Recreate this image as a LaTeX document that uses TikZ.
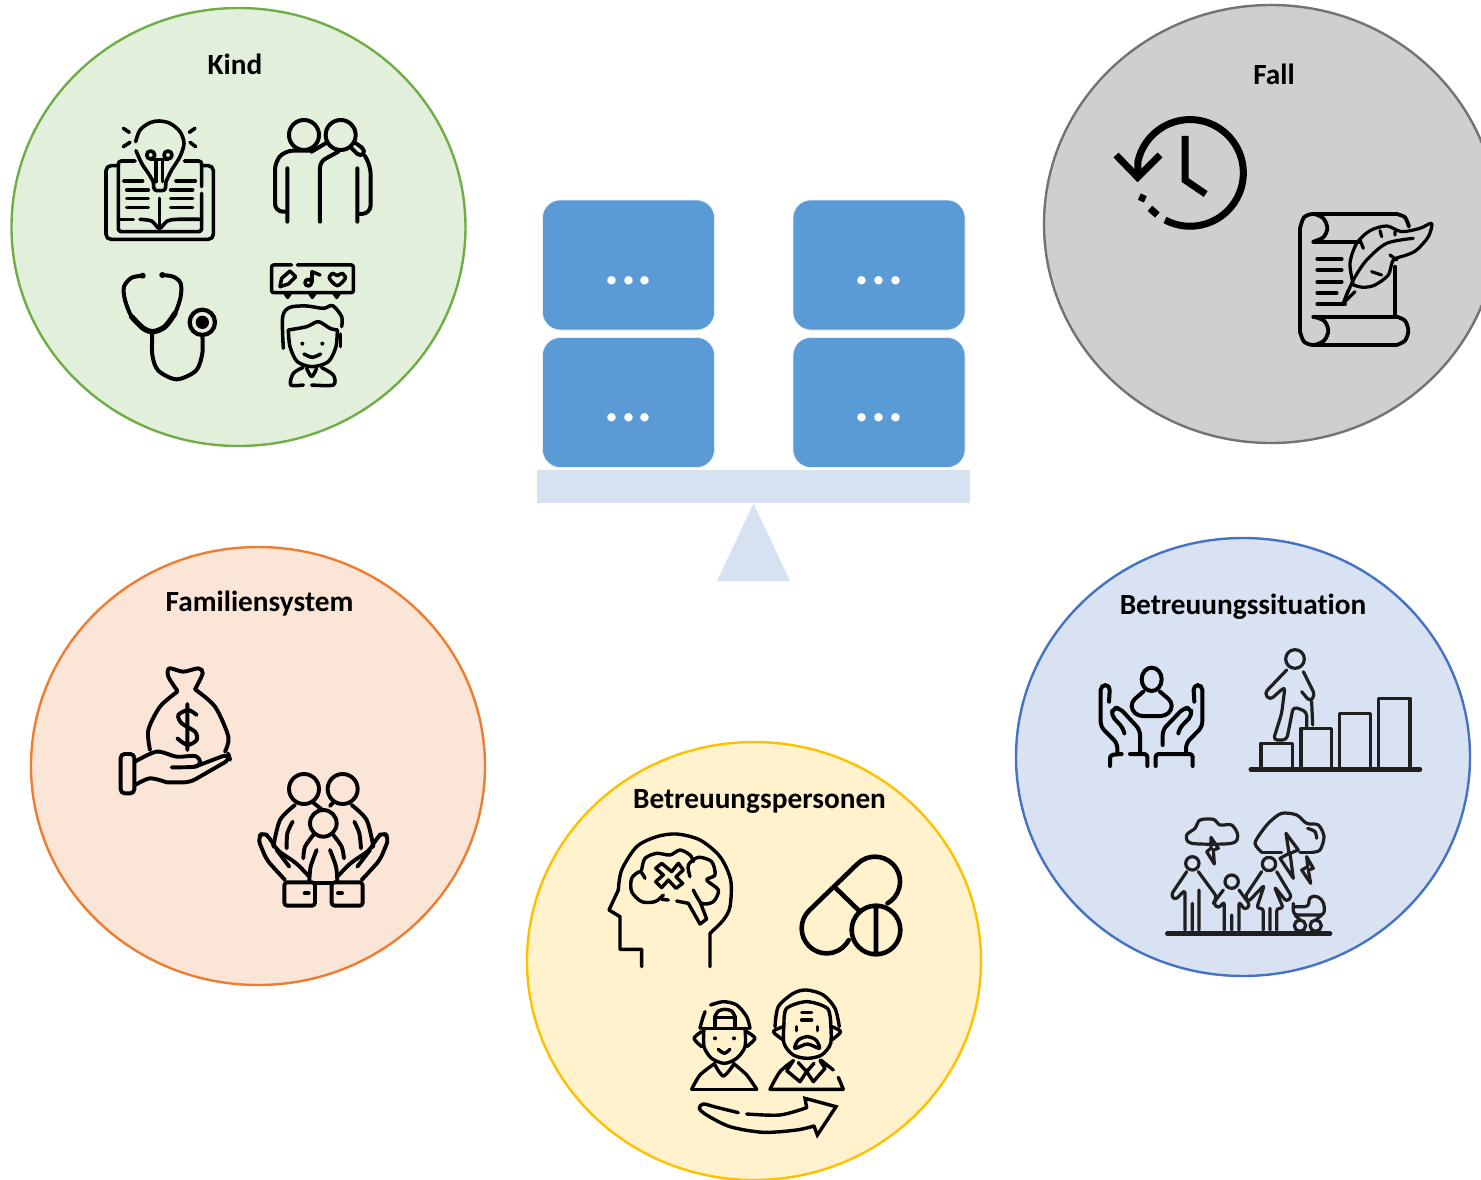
\documentclass[tikz,border=0pt]{standalone}
\usepackage{xcolor}
\usepackage{fontspec}
\setmainfont{Carlito}[Ligatures=NoCommon]
\usepackage{tikz}
\usetikzlibrary{shapes.geometric, positioning}

\definecolor{boxblue}{HTML}{5B9BD5}
\definecolor{beam}{HTML}{D6E1F2}

\tikzset{
    topic/.style={draw, ellipse, line width=2.4pt, minimum width=454pt, minimum height=438pt, inner sep=0pt},
    topictitle/.style={font=\fontsize{29.3}{32}\selectfont\bfseries, inner sep=0pt},
    box/.style={fill=boxblue, draw=white!85!boxblue, line width=0.6pt, rounded corners=18pt, minimum width=172pt, minimum height=130pt, inner sep=0pt, outer sep=0pt,
        text=white, text height=38.5pt, text depth=0pt, font=\fontsize{56}{56}\selectfont\bfseries},
    icon/.style={line width=4pt, line cap=round, line join=round, black},
    thin icon/.style={line width=3.2pt, line cap=round, line join=round, black!88},
    crop/.style 2 args={shift={(#1,#2)}, x=0.33333pt, y=-0.33333pt}
}
\newcommand{\dotsrow}{.\hspace{1.7pt}.\hspace{1.7pt}.}

\begin{document}
\begin{tikzpicture}[x=1pt, y=-1pt]
    \useasboundingbox (0,0) rectangle (1481,1180);

    % circles
    \node[topic, draw={rgb,255:red,112;green,173;blue,71}, fill={rgb,255:red,226;green,239;blue,218}] (kind) at (238.5,227) {};
    \node[topic, draw=black!55, fill={rgb,255:red,208;green,206;blue,206}] (fall) at (1271,224) {};
    \node[topic, draw={rgb,255:red,237;green,125;blue,49}, fill={rgb,255:red,251;green,229;blue,214}] (familie) at (258,766) {};
    \node[topic, draw={rgb,255:red,68;green,114;blue,196}, fill={rgb,255:red,217;green,226;blue,243}] (situation) at (1243,757) {};
    \node[topic, draw={rgb,255:red,255;green,192;blue,0}, fill={rgb,255:red,255;green,242;blue,204}] (personen) at (754,961) {};

    \node[topictitle] (kindtitle) at (235,64) {Kind};
    \node[topictitle] (falltitle) at (1274,74.5) {Fall};
    \node[topictitle] (familietitle) at (259.5,604) {Familiensystem};
    \node[topictitle] (situationtitle) at (1243,606.5) {Betreuungssituation};
    \node[topictitle] (personentitle) at (759.5,801) {Betreuungspersonen};

    % scale
    \node[box] (boxa) at (628.5,265) {\dotsrow};
    \node[box, below=7.5pt of boxa] (boxb) {\dotsrow};
    \node[box, right=78.5pt of boxa] (boxc) {\dotsrow};
    \node[box, below=7.5pt of boxc] (boxd) {\dotsrow};
    \node[fill=beam, minimum width=433pt, minimum height=33.5pt, inner sep=0pt] (bar) at (753.5,486.7) {};
    \fill[beam] (753.5,503.5) -- (790,581) -- (717,581) -- cycle;

    % Kind: book and bulb
    \begin{scope}[crop={90}{100}, icon, line width=3.6pt]
        \draw plot[smooth] coordinates {(137,125) (150,90) (180,68) (208,63) (240,70) (270,95) (282,130) (270,170) (245,210) (228,245)}
            plot[smooth] coordinates {(138,152) (155,190) (175,220) (190,245)};
        \draw[rounded corners=3pt] (190,245) -- (192,272) -- (226,272) -- (228,245);
        \draw (182,165) circle[radius=12] (234,165) circle[radius=12];
        \draw (182,178) -- (234,178) (198,178) -- (198,245) (218,178) -- (218,245);
        \draw (100,85) -- (118,97) (100,140) -- (120,127) (315,85) -- (298,97) (300,127) -- (317,140);
        \draw[rounded corners=5pt] (80,197) -- (48,197) -- (48,418) -- (370,418) -- (370,197) -- (338,197);
        \draw[rounded corners=3pt] (135,183) -- (85,183) -- (85,395) -- (335,395) -- (335,280);
        \draw[rounded corners=3pt] (283,183) -- (335,183) -- (335,260);
        \draw (85,358) -- (130,358) (208,295) -- (208,390);
        \draw plot[smooth] coordinates {(150,358) (185,363) (208,385) (232,363) (262,358) (335,358)};
        \draw (102,243) -- (158,243) (110,270) -- (175,270) (110,296) -- (175,296) (110,322) -- (175,322);
        \draw (258,243) -- (316,243) (242,270) -- (308,270) (242,296) -- (308,296) (242,322) -- (308,322);
    \end{scope}
    % Kind: couple
    \begin{scope}[crop={90}{100}, icon]
        \draw (642,105) circle[radius=45] (752,105) circle[radius=45];
        \draw[rounded corners=8pt] (668,152) -- (585,152) -- (555,185) -- (555,335) -- (585,335);
        \draw (592,205) -- (592,365) (665,155) -- (710,128) (802,205) -- (802,365);
        \draw[rounded corners=6pt] (745,155) -- (690,185) -- (690,365);
        \draw[rounded corners=5pt] (798,130) -- (828,152) -- (812,172) -- (785,145);
        \draw[rounded corners=8pt] (825,168) -- (842,200) -- (842,340) -- (810,342);
    \end{scope}
    % Kind: stethoscope
    \begin{scope}[crop={90}{100}, icon]
        \draw plot[smooth] coordinates {(160,527) (125,533) (102,560) (105,600) (125,650) (160,685) (190,695) (225,680) (255,640) (272,590) (272,550) (250,530) (215,525)};
        \draw[line width=5.4pt] plot[smooth] coordinates {(125,650) (160,685) (190,695) (225,680) (255,640)};
        \fill (158,527) circle[radius=9] (217,525) circle[radius=9];
        \draw plot[smooth] coordinates {(187,695) (187,765) (205,812) (260,838) (318,812) (337,760) (337,705)};
        \draw[line width=4.2pt] (337,667) circle[radius=38];
        \fill (337,667) circle[radius=20];
    \end{scope}
    % Kind: child with speech bubble
    \begin{scope}[crop={90}{100}, icon, line width=3.5pt]
        \draw[rounded corners=2pt] (605,495) -- (545,495) -- (545,578) -- (790,578) -- (790,495) -- (622,495);
        \draw (585,580) -- (593,592) -- (601,580) (659,580) -- (667,592) -- (675,580) (732,580) -- (740,592) -- (748,580);
        \draw (570,560) -- (575,535) -- (600,513) -- (617,530) -- (595,552) -- cycle;
        \draw (655,548) circle[radius=10] (666,548) -- (666,515) -- (690,525);
        \draw plot[smooth cycle] coordinates {(742,557) (718,535) (728,520) (742,527) (756,520) (766,535)};
        \draw plot[smooth] coordinates {(580,745) (578,650) (600,622) (650,618) (700,625) (728,617) (755,650) (755,680)};
        \draw plot[smooth] coordinates {(595,690) (650,680) (685,665) (720,685) (742,690)};
        \draw plot[smooth] coordinates {(595,690) (600,740) (622,785) (667,800) (715,785) (738,740) (742,690)};
        \draw (752,702) -- (752,740);
        \fill (637,731) circle[radius=6] (697,731) circle[radius=6];
        \draw plot[smooth] coordinates {(642,762) (667,772) (692,762)};
        \draw plot[smooth] coordinates {(640,802) (610,820) (602,855) (640,855)};
        \draw plot[smooth] coordinates {(665,855) (730,855) (730,825) (695,803)};
        \draw plot[smooth] coordinates {(650,805) (665,830) (680,805)};
    \end{scope}

    % Fall: clock
    \begin{scope}[crop={1100}{100}, icon, line cap=butt, line join=miter, line width=7pt]
        \draw (195,360) arc[start angle=118, end angle=-168, radius=160] -- (113,232);
        \draw (255,108) -- (255,240) -- (317,282);
        \draw (48,165) -- (113,232) -- (180,165);
        \draw (118,290) -- (136,298) (150,325) -- (172,345);
    \end{scope}
    % Fall: scroll and feather
    \begin{scope}[crop={1100}{100}, icon, line width=3.8pt]
        \draw plot[smooth] coordinates {(640,425) (670,412) (682,385) (670,355) (640,342) (612,352) (600,385)};
        \draw (600,385) -- (600,695) (640,342) -- (890,342) (640,425) -- (780,425) (640,650) -- (890,650) (640,735) -- (890,735) (885,500) -- (885,650);
        \draw plot[smooth] coordinates {(600,695) (612,725) (640,735) (672,722) (685,692) (672,662) (640,650)};
        \draw plot[smooth] coordinates {(890,650) (915,662) (925,692) (915,722) (890,735)};
        \draw plot[smooth] coordinates {(890,342) (915,352) (927,380)};
        \draw (652,477) -- (725,477) (652,510) -- (725,510) (652,545) -- (725,545) (652,578) -- (710,578) (652,612) -- (735,612);
        \draw[line width=3.2pt] plot[smooth] coordinates {(760,555) (750,490) (770,430) (810,392) (860,378) (905,395) (960,385) (995,370) (985,410) (950,450) (920,465) (880,480) (865,525) (825,555) (790,562) (760,555)};
        \draw[line width=3.2pt] plot[smooth] coordinates {(730,610) (760,540) (800,480) (860,430) (940,415)};
        \draw[line width=3.2pt] (730,610) -- (745,570) (730,610) -- (765,575) (780,420) -- (790,445) (840,392) -- (845,410) (885,395) -- (885,405) (870,465) -- (890,480) (815,515) -- (845,525);
    \end{scope}

    % Familiensystem: money
    \begin{scope}[crop={100}{650}, icon, line width=3.9pt]
        \draw plot[smooth] coordinates {(232,122) (205,80) (208,55) (250,65) (295,55) (308,70) (285,118)};
        \draw plot[smooth] coordinates {(232,125) (180,170) (145,240) (150,300)};
        \draw plot[smooth] coordinates {(285,118) (345,170) (385,260) (375,305)};
        \draw plot[smooth] coordinates {(290,195) (265,180) (235,195) (245,220) (285,245) (290,270) (262,285) (232,265)} (262,162) -- (262,300);
        \draw[rounded corners=4pt] (62,312) rectangle (103,430);
        \draw plot[smooth] coordinates {(105,335) (170,305) (230,320) (285,318) (300,335) (285,350) (215,352)};
        \draw[rounded corners=6pt] (285,350) -- (385,312) -- (390,328) -- (270,397) -- (200,397);
        \draw plot[smooth] coordinates {(200,397) (150,385) (105,405)};
    \end{scope}
    % Familiensystem: family in hands
    \begin{scope}[crop={100}{650}, icon, line width=3.9pt]
        \draw (612,417) circle[radius=45] (728,417) circle[radius=45] (670,520) circle[radius=40];
        \draw plot[smooth] coordinates {(585,465) (540,510) (520,590)} plot[smooth] coordinates {(755,465) (800,510) (820,590)};
        \draw (640,458) -- (665,478) (690,468) -- (702,455);
        \draw plot[smooth] coordinates {(578,515) (562,550) (560,595)} plot[smooth] coordinates {(763,515) (778,550) (783,595)};
        \draw plot[smooth] coordinates {(640,555) (615,590) (610,625)} plot[smooth] coordinates {(700,555) (725,590) (732,625)};
        \draw plot[smooth] coordinates {(650,600) (632,650) (628,695)} plot[smooth] coordinates {(690,600) (708,650) (712,695)};
        \draw[rounded corners=6pt] (555,690) -- (500,630) -- (473,565) -- (490,545) -- (510,565) -- (530,600) -- (590,640) -- (628,680);
        \draw[rounded corners=6pt] (785,690) -- (840,630) -- (867,565) -- (850,545) -- (830,565) -- (810,600) -- (750,640) -- (712,680);
        \draw (530,600) -- (568,650) (810,600) -- (772,650);
        \draw[rounded corners=3pt] (553,697) rectangle (645,767) (695,697) rectangle (788,767);
        \draw (645,700) -- (695,700) (614,730) -- (626,730) (714,730) -- (726,730);
    \end{scope}

    % Betreuungspersonen: head
    \begin{scope}[crop={590}{820}, icon, line width=3.4pt]
        \draw plot[smooth] coordinates {(85,210) (95,150) (140,80) (200,50) (260,42) (330,60) (390,110) (422,180) (420,260) (400,300) (360,340)};
        \draw (155,440) -- (155,388) -- (90,388) -- (90,290) -- (57,270) -- (85,210) (360,340) -- (360,440);
        \draw plot[smooth] coordinates {(165,175) (150,155) (125,175) (125,215) (155,245) (195,245) (220,225)};
        \draw plot[smooth] coordinates {(155,150) (165,115) (200,100) (240,105) (270,90) (300,105) (310,125)};
        \draw plot[smooth] coordinates {(300,170) (295,135) (325,112) (365,125) (375,165) (350,180) (385,210) (370,245) (335,250) (310,210)};
        \draw (235,240) -- (215,238) (260,243) -- (295,250) -- (330,312) -- (350,297) -- (330,245);
        \draw (215,130) -- (245,155) -- (265,130) -- (280,150) -- (258,170) -- (278,190) -- (258,205) -- (235,180) -- (215,203) -- (197,185) -- (220,165) -- (197,145) -- cycle;
    \end{scope}
    % Betreuungspersonen: pills
    \begin{scope}[crop={590}{820}, icon, line width=4.6pt]
        \draw (858,330) circle[radius=73] (858,262) -- (858,395) (738,205) -- (805,270);
        \draw (657,272) -- (802,132) arc[start angle=-135, end angle=60, radius=75];
        \draw (657,272) arc[start angle=-135, end angle=-332, radius=75];
    \end{scope}
    % Betreuungspersonen: young and old person, arrow
    \begin{scope}[crop={590}{820}, icon, line width=3.4pt]
        \draw plot[smooth] coordinates {(345,575) (335,605) (330,625)};
        \draw plot[smooth] coordinates {(362,555) (400,545) (440,555) (470,590) (480,625)};
        \draw (335,625) -- (475,625) (378,592) -- (432,592) (375,625) -- (375,590) (435,625) -- (435,590);
        \draw plot[smooth] coordinates {(375,590) (385,573) (405,568) (425,573) (435,590)};
        \draw plot[smooth] coordinates {(342,625) (342,680) (365,715) (403,730) (440,715) (465,680) (465,625)};
        \draw plot[smooth] coordinates {(335,635) (312,655) (335,680)} plot[smooth] coordinates {(470,635) (495,655) (470,680)};
        \fill (375,655) circle[radius=6] (432,655) circle[radius=6];
        \draw plot[smooth] coordinates {(385,688) (403,700) (420,688)};
        \draw (305,808) -- (500,808);
        \draw plot[smooth] coordinates {(305,808) (330,765) (375,730)} plot[smooth] coordinates {(500,808) (470,765) (430,730)};
        \draw plot[smooth] coordinates {(375,735) (400,768) (430,735)};
        \draw plot[smooth] coordinates {(555,620) (565,560) (610,520) (650,510) (700,525) (735,565) (748,620)};
        \draw plot[smooth] coordinates {(582,610) (590,565) (650,545) (712,565) (722,610)};
        \draw plot[smooth] coordinates {(582,610) (582,670) (610,705) (652,715) (695,705) (722,670) (722,610)};
        \draw plot[smooth] coordinates {(580,620) (550,635) (580,660)} plot[smooth] coordinates {(725,620) (752,635) (725,660)};
        \draw (635,578) -- (665,578) (635,600) -- (665,600) (620,620) -- (620,632) (682,620) -- (682,632);
        \draw plot[smooth cycle] coordinates {(652,650) (625,660) (615,685) (652,672) (688,685) (678,660)};
        \draw (540,808) -- (760,808) (760,808) -- (745,772) (730,750) -- (692,720);
        \draw plot[smooth] coordinates {(540,808) (570,755) (610,722)};
        \draw (610,722) -- (590,752) -- (630,785) -- (650,755) -- (670,785) -- (705,745) -- (690,722) (625,728) -- (650,755) -- (672,730);
        \draw plot[smooth] coordinates {(445,878) (380,862) (340,852) (328,865) (350,885) (420,920) (520,937) (620,930) (672,918)};
        \draw plot[smooth] coordinates {(470,882) (570,885) (650,863)};
        \draw[line join=miter] (650,863) -- (645,835) -- (738,860) -- (682,945) -- (672,918);
    \end{scope}

    % Betreuungssituation: hands
    \begin{scope}[crop={1085}{640}, icon]
        \draw (200,118) ellipse[x radius=30, y radius=35];
        \draw[rounded corners=4pt] (175,155) -- (140,185) -- (140,210) -- (160,228) -- (240,228) -- (260,210) -- (260,185) -- (225,155);
        \draw[rounded corners=5pt] (72,185) -- (75,135) -- (47,135) -- (47,260) -- (97,310) -- (97,340);
        \draw[rounded corners=5pt] (118,280) -- (115,265) -- (78,225) -- (85,203) -- (105,205) -- (165,270) -- (165,340);
        \draw[rounded corners=3pt] (75,378) -- (75,345) -- (110,342) (135,342) -- (187,342) -- (187,378);
        \draw[rounded corners=5pt] (328,185) -- (325,135) -- (352,135) -- (352,260) -- (303,310) -- (303,340);
        \draw[rounded corners=5pt] (280,280) -- (283,265) -- (322,225) -- (315,203) -- (295,205) -- (233,270) -- (233,315);
        \draw[rounded corners=3pt] (212,378) -- (212,342) -- (323,342) -- (323,378);
    \end{scope}
    % Betreuungssituation: stairs
    \begin{scope}[crop={1085}{640}, thin icon]
        \draw[line width=4.4pt] (497,388) -- (1005,388);
        \draw (528,385) -- (528,310) -- (622,310) -- (622,385) (648,385) -- (648,265) -- (740,265) -- (740,385);
        \draw (763,385) -- (763,220) -- (857,220) -- (857,385) (880,385) -- (880,175) -- (975,175) -- (975,385);
        \draw (630,57) circle[radius=28];
        \draw[rounded corners=4pt] (605,90) -- (538,160) -- (555,180) -- (600,140) -- (590,220) -- (565,300) -- (605,300) -- (625,200) -- (665,215) -- (665,260);
        \draw[rounded corners=4pt] (655,95) -- (690,165) -- (675,185) -- (650,155) (680,185) -- (683,255);
    \end{scope}
    % Betreuungssituation: family under clouds
    \begin{scope}[crop={1085}{640}, thin icon]
        \draw[line width=4.6pt] (247,881) -- (735,881);
        \draw plot[smooth cycle] coordinates {(320,610) (305,585) (330,565) (345,540) (385,538) (405,555) (440,555) (458,585) (440,610)};
        \draw (378,592) -- (400,625) -- (385,630) -- (388,672) -- (365,635) -- (378,625) -- cycle;
        \draw plot[smooth] coordinates {(530,637) (510,610) (530,575) (555,545) (590,520) (635,525) (665,550) (700,555) (717,590) (705,630) (680,637)};
        \draw (530,637) -- (590,637) (645,637) -- (680,637);
        \draw (603,580) -- (640,630) -- (615,640) -- (625,715) -- (585,655) -- (612,640) -- cycle;
        \draw (665,650) -- (685,685) -- (670,690) -- (677,730) -- (650,690) -- (668,680) -- cycle;
        \draw plot[smooth] coordinates {(668,565) (690,575) (695,595)};
        \draw (322,670) circle[radius=20] (440,725) circle[radius=20] (552,672) circle[radius=20];
        \draw[rounded corners=3pt] (305,695) -- (258,765) -- (270,780) -- (300,750) -- (300,870);
        \draw[rounded corners=3pt] (340,695) -- (395,770) -- (385,790) (342,750) -- (342,870) (322,790) -- (322,870);
        \draw[rounded corners=3pt] (415,750) -- (385,790) -- (400,805) -- (418,785) -- (418,870);
        \draw[rounded corners=3pt] (462,750) -- (495,795) -- (480,810) -- (462,785) -- (462,870) (440,825) -- (440,870);
        \draw[rounded corners=3pt] (530,695) -- (480,770) -- (490,785) -- (538,735) -- (515,805) -- (535,805) -- (535,870);
        \draw[rounded corners=3pt] (575,695) -- (620,770) -- (605,785) -- (568,740) -- (595,805) -- (575,805) -- (575,870) (555,805) -- (555,870);
        \draw[rounded corners=4pt] (625,790) -- (625,825) -- (718,825) -- (718,790) -- (700,768) -- (672,770) -- (672,800) -- (625,800);
        \draw (645,857) circle[radius=17] (692,857) circle[radius=17] (630,825) -- (645,840) (710,825) -- (692,840);
    \end{scope}
\end{tikzpicture}
\end{document}
